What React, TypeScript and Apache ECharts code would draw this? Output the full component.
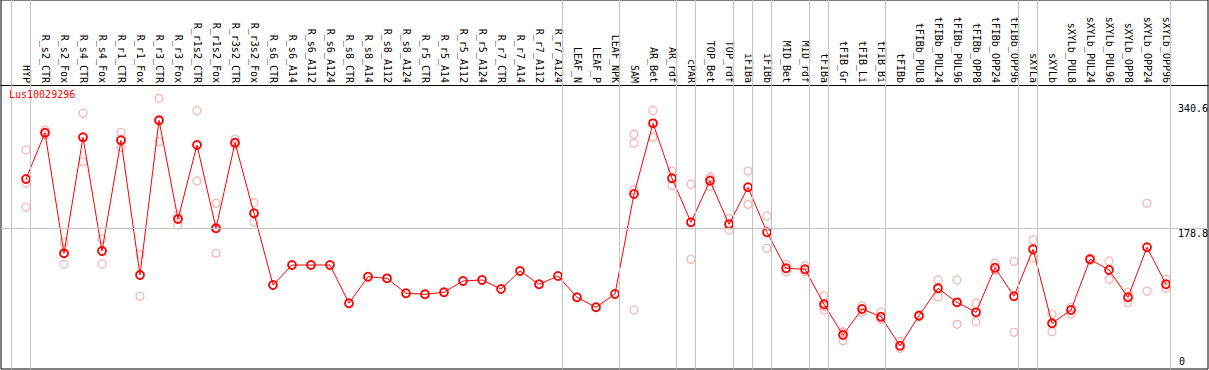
import React, { useEffect, useRef } from "react";
import * as echarts from "echarts";

const categories = [
  "HYP", "R_s2_CTR", "R_s2_Fox", "R_s4_CTR", "R_s4_Fox", "R_r1_CTR", "R_r1_Fox", "R_r3_CTR", "R_r3_Fox",
  "R_r1s2_CTR", "R_r1s2_Fox", "R_r3s2_CTR", "R_r3s2_Fox", "R_s6_CTR", "R_s6_A14", "R_s6_A112", "R_s6_A124",
  "R_s8_CTR", "R_s8_A14", "R_s8_A112", "R_s8_A124", "R_r5_CTR", "R_r5_A14", "R_r5_A112", "R_r5_A124",
  "R_r7_CTR", "R_r7_A14", "R_r7_A112", "R_r7_A124", "LEAF_N", "LEAF_P", "LEAF_NPK", "SAM", "AR_Bet", "AR_rdf",
  "cPAR", "TOP_Bet", "TOP_rdf", "iFIBa", "iFIBb", "MID_Bet", "MID_rdf", "tFIBa", "tFIB_Gr", "tFIB_Li", "tFIB_Bi",
  "tFIBb", "tFIBb_PUL8", "tFIBb_PUL24", "tFIBb_PUL96", "tFIBb_OPP8", "tFIBb_OPP24", "tFIBb_OPP96", "sXYLa",
  "sXYLb", "sXYLb_PUL8", "sXYLb_PUL24", "sXYLb_PUL96", "sXYLb_OPP8", "sXYLb_OPP24", "sXYLb_OPP96",
];

const meanValues = [
  242.8, 302.6, 146.8, 296.7, 149.8, 292.8, 118.8, 318.6, 191.1, 286.7, 179.1, 289.7, 198.5, 105.9, 131.7,
  131.7, 131.7, 82.3, 116.6, 114.5, 95.2, 93.9, 96.5, 111.1, 112.4, 100.7, 124.0, 106.8, 117.5, 90.0, 77.1,
  94.3, 223.4, 314.7, 243.7, 186.9, 240.6, 184.3, 232.1, 174.0, 127.5, 126.2, 81.0, 41.3, 74.9, 65.0, 27.5,
  66.2, 101.6, 83.5, 70.6, 128.2, 91.3, 152.0, 56.4, 73.6, 139.1, 125.3, 90.0, 154.6, 106.8,
];

const replicates = [
  [280.3, 237.6, 206.6], [306.1, 302.2, 299.6], [161.0, 146.8, 133.0], [327.7, 296.7, 265.1],
  [165.3, 149.8, 133.0], [303.1, 292.8, 283.7], [145.5, 118.8, 91.3], [347.0, 318.6, 291.0],
  [196.3, 191.1, 183.4], [331.0, 286.7, 240.2], [211.4, 179.1, 146.8], [294.1, 289.7, 286.7],
  [212.2, 198.5, 186.9], [], [], [], [], [], [], [], [], [], [], [], [], [], [], [], [], [], [], [],
  [300.5, 288.9, 228.6, 73.6], [331.0, 296.7], [253.1, 234.2], [236.0, 186.9, 139.1],
  [245.8, 243.2, 232.9], [192.0, 176.9], [253.1, 210.1], [195.0, 153.3], [132.6, 123.1],
  [130.8, 123.1], [91.7, 78.0, 73.6], [45.6, 44.3, 34.0], [79.2, 70.6], [71.0, 62.4, 61.6],
  [32.7, 24.1], [67.5, 65.0], [112.4, 90.8], [112.4, 83.0, 55.1], [82.3, 58.5], [133.9, 125.4, 125.3],
  [136.5, 44.8], [164.0, 140.4], [68.4, 45.6], [77.1, 68.4], [140.5, 137.7], [136.9, 113.3],
  [96.5, 83.0], [211.4, 98.1], [113.3, 101.6],
];

const yTickValues = [178.8, 340.6];
const yZeroTick = [0];
const referenceLine = 178.8;
// index of the last category of each group; a separator is drawn just after it
const groupEnds = [-1, 0, 28, 31, 34, 35, 37, 38, 39, 41, 42, 45, 52, 53, 60];

const MONO = "DejaVu Sans Mono";

export default function App() {
  const ref = useRef<HTMLDivElement>(null);
  useEffect(() => {
    if (!ref.current) return;
    const chart = echarts.init(ref.current, null, { renderer: "svg" });
    const idx = categories.map((_, i) => i);
    const repData: number[][] = [];
    replicates.forEach((r, i) => r.forEach((v) => repData.push([i, v])));
    const yMin = -2.6;
    const yMax = 474;
    chart.setOption({
      animation: false,
      backgroundColor: "#ffffff",
      title: {
        text: "Lus10029296",
        left: 9,
        top: 89,
        padding: 0,
        textStyle: { color: "#ff0000", fontSize: 10, fontWeight: "normal", fontFamily: MONO },
      },
      grid: {
        left: 1,
        top: 0,
        width: 1207,
        height: 369,
        show: true,
        borderColor: "#000000",
        borderWidth: 1,
        backgroundColor: "transparent",
        containLabel: false,
        outerBoundsMode: "none",
      },
      xAxis: {
        type: "value",
        position: "top",
        offset: -85,
        min: -25 / 19,
        max: (1208 - 26) / 19,
        axisLine: { show: true, onZero: false, lineStyle: { color: "#000000", width: 1 } },
        axisTick: { show: false },
        splitLine: { show: false },
        axisLabel: {
          customValues: idx,
          formatter: (v: number) => categories[Math.round(v)] ?? "",
          rotate: 90,
          align: "right",
          verticalAlign: "middle",
          margin: 2,
          color: "#000000",
          fontSize: 10,
          fontFamily: MONO,
          hideOverlap: false,
          showMinLabel: true,
          showMaxLabel: true,
        },
      },
      yAxis: [
        {
          type: "value",
          position: "right",
          min: yMin,
          max: yMax,
          axisLine: { show: false, onZero: false },
          axisTick: { show: false },
          splitLine: { show: false },
          axisLabel: {
            customValues: yTickValues,
            inside: true,
            align: "left",
            verticalAlign: "top",
            margin: 30,
            color: "#000000",
            fontSize: 10,
            fontFamily: MONO,
            formatter: (v: number) => String(v),
          },
        },
        {
          type: "value",
          position: "right",
          min: yMin,
          max: yMax,
          axisLine: { show: false, onZero: false },
          axisTick: { show: false },
          splitLine: { show: false },
          axisLabel: {
            customValues: yZeroTick,
            inside: true,
            align: "left",
            verticalAlign: "bottom",
            margin: 29,
            color: "#000000",
            fontSize: 10,
            fontFamily: MONO,
            formatter: (v: number) => String(v),
          },
        },
      ],
      series: [
        {
          type: "scatter",
          z: 2,
          data: repData,
          symbol: "circle",
          symbolSize: 8,
          itemStyle: { color: "rgba(255,255,255,0)", borderColor: "#f2a0a0", borderWidth: 1.2 },
          silent: true,
          markLine: {
            silent: true,
            symbol: "none",
            label: { show: false },
            lineStyle: { color: "#c4c4c4", width: 1, type: "solid" },
            data: [
              ...groupEnds.map((g) => ({ xAxis: g + 0.24 })),
              { yAxis: referenceLine },
            ],
          },
        },
        {
          type: "line",
          z: 3,
          data: meanValues.map((v, i) => [i, v]),
          symbol: "circle",
          symbolSize: 8,
          showSymbol: true,
          showAllSymbol: true,
          lineStyle: { color: "#ff0000", width: 1 },
          itemStyle: { color: "rgba(255,255,255,0)", borderColor: "#ff0000", borderWidth: 1.8 },
          silent: true,
        },
      ],
    });
    return () => chart.dispose();
  }, []);
  return (
    <div
      ref={ref}
      style={{ position: "absolute", left: 0, top: 0, width: 1209, height: 370, background: "#fff" }}
    />
  );
}
